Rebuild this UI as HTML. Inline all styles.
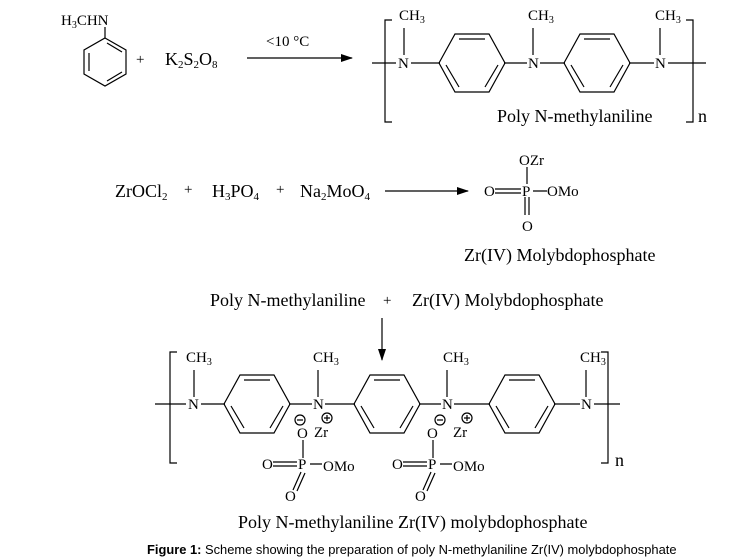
<!DOCTYPE html>
<html><head><meta charset="utf-8"><style>
body{margin:0;background:#fff}
svg{display:block}
text{font-family:"Liberation Serif",serif;fill:#000}
.s{font-size:15px}
.m{font-size:18px}
</style></head><body>
<svg width="748" height="560" viewBox="0 0 748 560" xmlns="http://www.w3.org/2000/svg">
<defs>
<g id="ring" fill="none" stroke="#000" stroke-width="1.2">
<polygon points="-33,0 -17,-29 17,-29 33,0 17,29 -17,29"/>
<path d="M-13,-24 L13,-24 M26,2 L13,24 M-26,2 L-13,24"/>
</g>
<marker id="ah" markerWidth="12" markerHeight="8" refX="11" refY="4" orient="auto" markerUnits="userSpaceOnUse"><path d="M0,0 L12,4 L0,8 Z" fill="#000"/></marker>
</defs>
<g stroke="#000" stroke-width="1.2" fill="none">
<polygon points="105,38 126,50 126,74 105,86 84,74 84,50"/>
<path d="M89,53 L89,71 M107,81 L122,72 M107,43 L122,52"/>
<path d="M105,27 L105,38"/>
<path d="M247,58 L352,58" marker-end="url(#ah)"/>
<path d="M392,20 L385,20 L385,122 L392,122 M686,20 L693,20 L693,122 L686,122"/>
<path d="M372,63 L396,63 M411,63 L440,63 M504,63 L527,63 M540,63 L565,63 M629,63 L654,63 M668,63 L706,63"/>
<path d="M404,28 L404,55 M533,28 L533,55 M660,28 L660,55"/>
<path d="M385,191 L468,191" marker-end="url(#ah)"/>
<path d="M495,189 L521,189 M495,193 L521,193 M533,191 L547,191 M527,167 L527,184 M525,197 L525,215 M529,197 L529,215"/>
<path d="M382,318 L382,360" marker-end="url(#ah)"/>
<path d="M177,352 L170,352 L170,463 L177,463 M601,352 L608,352 L608,463 L601,463"/>
<path d="M155,404 L186,404 M201,404 L225,404 M289,404 L312,404 M325,404 L355,404 M419,404 L441,404 M454,404 L490,404 M554,404 L580,404 M594,404 L620,404"/>
<path d="M194,370 L194,397 M318,370 L318,397 M447,370 L447,397 M586,370 L586,397"/>
<path d="M303,440 L303,458 M433,440 L433,458 M273,462 L297,462 M273,466 L297,466 M310,464 L322,464 M403,462 L427,462 M403,466 L427,466 M440,464 L452,464"/>
<path d="M301,472 L293,490 M305,473 L297,491 M431,472 L423,490 M435,473 L427,491"/>
<circle cx="300" cy="420" r="5"/><circle cx="327" cy="418" r="5"/>
<circle cx="440" cy="420" r="5"/><circle cx="467" cy="418" r="5"/>
<path d="M297,420 L303,420 M324,418 L330,418 M327,415 L327,421 M437,420 L443,420 M464,418 L470,418 M467,415 L467,421"/>
</g>
<use href="#ring" x="472" y="63"/>
<use href="#ring" x="597" y="63"/>
<use href="#ring" x="257" y="404"/>
<use href="#ring" x="387" y="404"/>
<use href="#ring" x="522" y="404"/>
<text class="s" x="61" y="25">H<tspan font-size="10" dy="3">3</tspan><tspan dy="-3">CHN</tspan></text>
<text class="s" x="136" y="64">+</text>
<text class="m" x="165" y="65">K<tspan font-size="11" dy="3">2</tspan><tspan dy="-3">S</tspan><tspan font-size="11" dy="3">2</tspan><tspan dy="-3">O</tspan><tspan font-size="11" dy="3">8</tspan></text>
<text class="s" x="266" y="46">&lt;10 °C</text>
<text class="s" x="399" y="20">CH<tspan font-size="10" dy="3">3</tspan></text>
<text class="s" x="528" y="20">CH<tspan font-size="10" dy="3">3</tspan></text>
<text class="s" x="655" y="20">CH<tspan font-size="10" dy="3">3</tspan></text>
<text class="s" x="398" y="68">N</text>
<text class="s" x="528" y="68">N</text>
<text class="s" x="655" y="68">N</text>
<text class="m" x="497" y="122">Poly N-methylaniline</text>
<text class="m" x="698" y="122">n</text>
<text class="m" x="115" y="197">ZrOCl<tspan font-size="11" dy="3">2</tspan></text>
<text class="s" x="184" y="194">+</text>
<text class="m" x="212" y="197">H<tspan font-size="11" dy="3">3</tspan><tspan dy="-3">PO</tspan><tspan font-size="11" dy="3">4</tspan></text>
<text class="s" x="276" y="194">+</text>
<text class="m" x="300" y="197">Na<tspan font-size="11" dy="3">2</tspan><tspan dy="-3">MoO</tspan><tspan font-size="11" dy="3">4</tspan></text>
<text class="s" x="519" y="165">OZr</text>
<text class="s" x="484" y="196">O</text>
<text class="s" x="522" y="196">P</text>
<text class="s" x="547" y="196">OMo</text>
<text class="s" x="522" y="231">O</text>
<text class="m" x="464" y="261">Zr(IV) Molybdophosphate</text>
<text class="m" x="210" y="306">Poly N-methylaniline</text>
<text class="s" x="383" y="305">+</text>
<text class="m" x="412" y="306">Zr(IV) Molybdophosphate</text>
<text class="s" x="186" y="362">CH<tspan font-size="10" dy="3">3</tspan></text>
<text class="s" x="313" y="362">CH<tspan font-size="10" dy="3">3</tspan></text>
<text class="s" x="443" y="362">CH<tspan font-size="10" dy="3">3</tspan></text>
<text class="s" x="580" y="362">CH<tspan font-size="10" dy="3">3</tspan></text>
<text class="s" x="188" y="409">N</text>
<text class="s" x="313" y="409">N</text>
<text class="s" x="442" y="409">N</text>
<text class="s" x="581" y="409">N</text>
<text class="s" x="297" y="438">O</text>
<text class="s" x="314" y="437">Zr</text>
<text class="s" x="427" y="438">O</text>
<text class="s" x="453" y="437">Zr</text>
<text class="s" x="262" y="469">O</text>
<text class="s" x="298" y="469">P</text>
<text class="s" x="323" y="471">OMo</text>
<text class="s" x="285" y="501">O</text>
<text class="s" x="392" y="469">O</text>
<text class="s" x="428" y="469">P</text>
<text class="s" x="453" y="471">OMo</text>
<text class="s" x="415" y="501">O</text>
<text class="m" x="615" y="466">n</text>
<text class="m" x="238" y="528">Poly N-methylaniline Zr(IV) molybdophosphate</text>
<text x="147" y="554" style="font-family:'Liberation Sans',sans-serif;font-size:12.9px"><tspan font-weight="bold">Figure 1:</tspan> Scheme showing the preparation of poly N-methylaniline Zr(IV) molybdophosphate</text>
</svg>
</body></html>
